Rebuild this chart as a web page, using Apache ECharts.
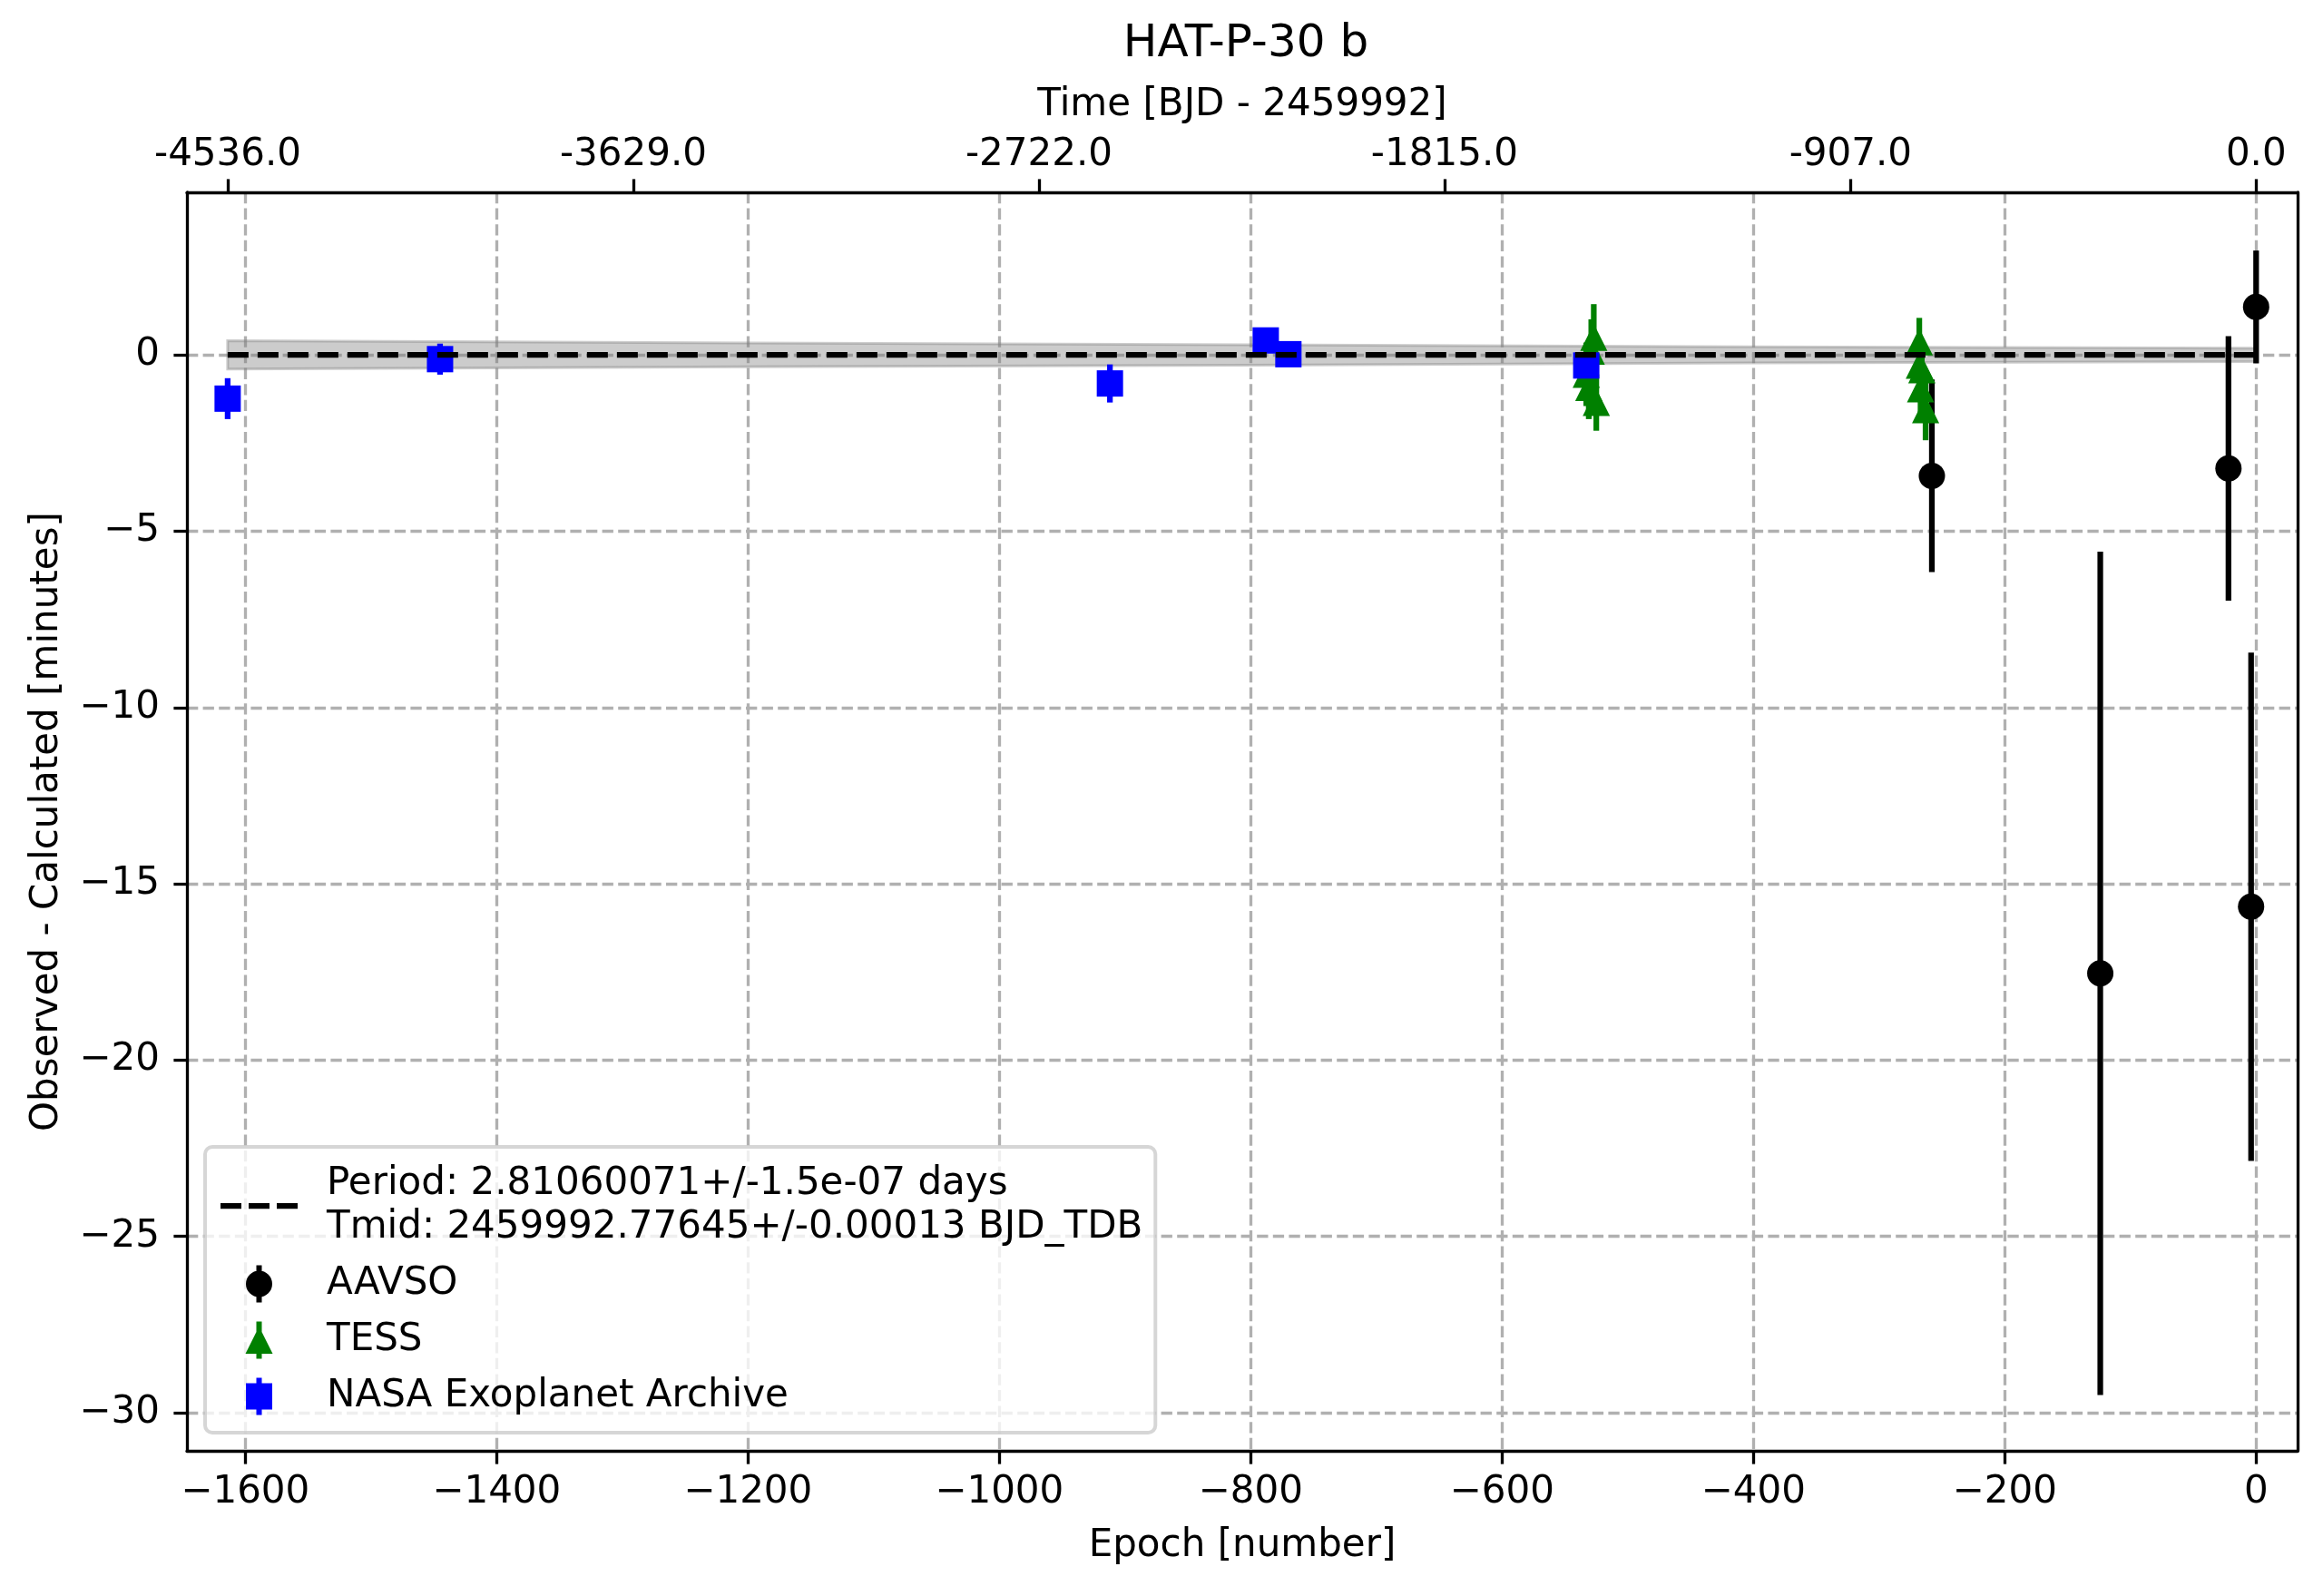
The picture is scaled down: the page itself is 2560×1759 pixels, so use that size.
<!DOCTYPE html>
<html>
<head>
<meta charset="utf-8">
<script src="https://cdn.jsdelivr.net/npm/echarts@6/dist/echarts.min.js"></script>
<style>
  html, body { margin: 0; padding: 0; background: #fff; }
  #chart { width: 2560px; height: 1759px; }
</style>
</head>
<body>
<div id="chart"></div>
<script>
// ephemeris
var PERIOD = 2.81060071;
var fitLabel = 'Period: 2.81060071+/-1.5e-07 days\nTmid: 2459992.77645+/-0.00013 BJD_TDB';

// AAVSO (black circles)
var aavsoEpoch = [-258, -124, -22, -4, 0];
var aavsoOC = [-3.43, -17.54, -3.22, -15.65, 1.36];
var aavsoErr = [2.73, 11.96, 3.75, 7.21, 1.60];

// TESS (green triangles)
var tessEpoch = [-527, -529, -533, -531, -525, -268, -268, -266, -267, -263];
var tessOC = [0.50, 0.11, -0.55, -0.92, -1.35, 0.37, -0.29, -0.42, -0.96, -1.55];
var tessErr = [0.94, 0.90, 0.90, 0.90, 0.80, 0.68, 0.70, 0.70, 0.70, 0.87];

// NASA Exoplanet Archive (blue squares)
var nasaEpoch = [-1614, -1445, -912, -788, -770, -533];
var nasaOC = [-1.24, -0.12, -0.81, 0.41, 0.02, -0.30];
var nasaErr = [0.58, 0.44, 0.54, 0.30, 0.30, 0.30];

// linear fit and its uncertainty band
var fitEpoch = [-1614, 0];
var fitOC = [0, 0];
var bandEpoch = [-1614, -1200, -800, -400, 0];
var bandHalf = [0.40, 0.34, 0.29, 0.23, 0.19];

// axes
var xMin = -1646.4, xMax = 33;
var yMin = -31.08, yMax = 4.61;
var xTicks = [-1600, -1400, -1200, -1000, -800, -600, -400, -200, 0];
var yTicks = [-30, -25, -20, -15, -10, -5, 0];
var timeTicks = [-4536, -3629, -2722, -1815, -907, 0];

var FONT = 'DejaVu Sans';

function minusFmt(v) {
    // matplotlib uses a real minus sign
    return v < 0 ? '\u2212' + Math.abs(v) : String(v);
}

function errSeries(name, color, xs, ys, es) {
    return {
        type: 'custom',
        name: name,
        xAxisIndex: 0,
        yAxisIndex: 0,
        silent: true,
        data: xs.map(function(x, i) { return [x, ys[i], es[i]]; }),
        encode: { x: 0, y: 1 },
        renderItem: function(params, api) {
            var x = api.value(0), y = api.value(1), e = api.value(2);
            var p1 = api.coord([x, y - e]);
            var p2 = api.coord([x, y + e]);
            return {
                type: 'line',
                shape: { x1: p1[0], y1: p1[1], x2: p2[0], y2: p2[1] },
                style: { stroke: color, lineWidth: 6.25 }
            };
        }
    };
}

function pointSeries(name, color, symbol, size, xs, ys) {
    return {
        type: 'scatter',
        name: name,
        xAxisIndex: 0,
        yAxisIndex: 0,
        symbol: symbol,
        symbolSize: size,
        itemStyle: { color: color, opacity: 1 },
        data: xs.map(function(x, i) { return [x, ys[i]]; })
    };
}

// legend handles: dashed line, and markers with a vertical error bar
var iconDash = 'path://M0 0 H23 V6.25 H0 Z M31 0 H54 V6.25 H31 Z M62 0 H85 V6.25 H62 Z';
var iconCircle = 'path://M11.5 0 H17.5 V41 H11.5 Z M0 20.5 A14.5 14.5 0 1 1 29 20.5 A14.5 14.5 0 1 1 0 20.5 Z';
var iconTri = 'path://M12 0 H18 V41 H12 Z M15 5.5 L30 35.5 L0 35.5 Z';
var iconSquare = 'path://M11.5 0 H17.5 V41 H11.5 Z M0 6 H29 V35 H0 Z';

var chart = echarts.init(document.getElementById('chart'));

var option = {
    animation: false,
    backgroundColor: '#ffffff',
    textStyle: { fontFamily: FONT, color: '#000' },
    title: {
        text: 'HAT-P-30 b',
        left: 1368,
        top: 19,
        textAlign: 'center',
        textStyle: { fontFamily: FONT, fontSize: 50, fontWeight: 'normal', color: '#000' }
    },
    grid: { left: 206, right: 28, top: 212, bottom: 160, containLabel: false },
    legend: {
        orient: 'vertical',
        left: 226,
        top: 1264,
        padding: [17, 14, 16, 17],
        itemGap: 14,
        itemWidth: 85,
        itemHeight: 41,
        selectedMode: false,
        backgroundColor: 'rgba(255,255,255,0.8)',
        borderColor: 'rgba(204,204,204,0.8)',
        borderWidth: 4,
        borderRadius: 8,
        textStyle: { fontFamily: FONT, fontSize: 42, lineHeight: 48, color: '#000', padding: [0, 0, 0, 27] },
        data: [
            { name: fitLabel, icon: iconDash, itemStyle: { color: '#000' } },
            { name: 'AAVSO', icon: iconCircle },
            { name: 'TESS', icon: iconTri },
            { name: 'NASA Exoplanet Archive', icon: iconSquare }
        ]
    },
    xAxis: [{
        type: 'value',
        position: 'bottom',
        min: xMin,
        max: xMax,
        name: 'Epoch [number]',
        nameLocation: 'middle',
        nameGap: 84,
        nameTextStyle: { fontFamily: FONT, fontSize: 42, color: '#000', verticalAlign: 'top' },
        axisLine: { onZero: false, lineStyle: { color: '#000', width: 3.3 } },
        axisTick: { show: true, length: 14.6, inside: false, customValues: xTicks, lineStyle: { color: '#000', width: 3.3 } },
        axisLabel: { customValues: xTicks, margin: 25, fontFamily: FONT, fontSize: 42, color: '#000', formatter: minusFmt },
        splitLine: { show: true, lineStyle: { color: '#b0b0b0', width: 3.3, type: [12.3, 5.3] } }
    }, {
        type: 'value',
        position: 'top',
        min: xMin * PERIOD,
        max: xMax * PERIOD,
        name: 'Time [BJD - 2459992]',
        nameLocation: 'middle',
        nameGap: 75,
        nameTextStyle: { fontFamily: FONT, fontSize: 42, color: '#000', verticalAlign: 'bottom' },
        axisLine: { onZero: false, lineStyle: { color: '#000', width: 3.3 } },
        axisTick: { show: true, length: 14.6, inside: false, customValues: timeTicks, lineStyle: { color: '#000', width: 3.3 } },
        axisLabel: {
            customValues: timeTicks, margin: 20, fontFamily: FONT, fontSize: 42, color: '#000',
            formatter: function(v) { return v.toFixed(1); }
        },
        splitLine: { show: false }
    }],
    yAxis: [{
        type: 'value',
        position: 'left',
        min: yMin,
        max: yMax,
        name: 'Observed - Calculated [minutes]',
        nameLocation: 'middle',
        nameGap: 133,
        nameRotate: 90,
        nameTextStyle: { fontFamily: FONT, fontSize: 42, color: '#000' },
        axisLine: { onZero: false, lineStyle: { color: '#000', width: 3.3 } },
        axisTick: { show: true, length: 14.6, inside: false, customValues: yTicks, lineStyle: { color: '#000', width: 3.3 } },
        axisLabel: { customValues: yTicks, margin: 30, fontFamily: FONT, fontSize: 42, color: '#000', formatter: minusFmt },
        splitLine: { show: true, lineStyle: { color: '#b0b0b0', width: 3.3, type: [12.3, 5.3] } }
    }, {
        type: 'value',
        position: 'right',
        min: yMin,
        max: yMax,
        axisLine: { show: true, onZero: false, lineStyle: { color: '#000', width: 3.3 } },
        axisTick: { show: false },
        axisLabel: { show: false },
        splitLine: { show: false }
    }],
    series: [
        {
            type: 'custom',
            name: 'band',
            xAxisIndex: 0,
            yAxisIndex: 0,
            silent: true,
            data: [[bandEpoch[0], 0]],
            encode: { x: 0, y: 1 },
            renderItem: function(params, api) {
                var pts = [];
                for (var i = 0; i < bandEpoch.length; i++) {
                    pts.push(api.coord([bandEpoch[i], bandHalf[i]]));
                }
                for (var j = bandEpoch.length - 1; j >= 0; j--) {
                    pts.push(api.coord([bandEpoch[j], -bandHalf[j]]));
                }
                return {
                    type: 'polygon',
                    shape: { points: pts },
                    style: { fill: 'rgba(128,128,128,0.4)', stroke: 'rgba(128,128,128,0.4)', lineWidth: 3 }
                };
            }
        },
        {
            type: 'line',
            name: fitLabel,
            xAxisIndex: 0,
            yAxisIndex: 0,
            symbol: 'none',
            silent: true,
            lineStyle: { color: '#000', width: 6.25, type: [23, 10] },
            itemStyle: { color: '#000' },
            data: fitEpoch.map(function(x, i) { return [x, fitOC[i]]; })
        },
        errSeries('AAVSO err', '#000000', aavsoEpoch, aavsoOC, aavsoErr),
        pointSeries('AAVSO', '#000000', 'circle', 29, aavsoEpoch, aavsoOC),
        errSeries('TESS err', '#008000', tessEpoch, tessOC, tessErr),
        pointSeries('TESS', '#008000', 'triangle', [30, 30], tessEpoch, tessOC),
        errSeries('NASA err', '#0000ff', nasaEpoch, nasaOC, nasaErr),
        pointSeries('NASA Exoplanet Archive', '#0000ff', 'rect', 29, nasaEpoch, nasaOC)
    ]
};

chart.setOption(option);
</script>
</body>
</html>
